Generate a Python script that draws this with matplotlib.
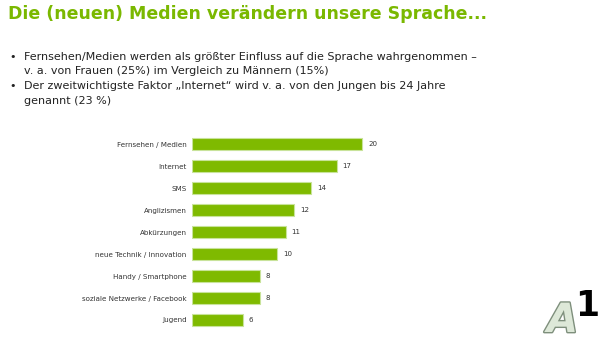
import matplotlib
matplotlib.use("Agg")
import matplotlib.pyplot as plt
import matplotlib.patheffects as pe

# Einflussfaktoren auf die Sprache (Angaben in %)
kategorien = ["Fernsehen / Medien", "Internet", "SMS", "Anglizismen", "Abkürzungen",
              "neue Technik / Innovation", "Handy / Smartphone",
              "soziale Netzwerke / Facebook", "Jugend"]
werte = [20, 17, 14, 12, 11, 10, 8, 8, 6]

titel = "Die (neuen) Medien verändern unsere Sprache..."
punkte = [
    ["Fernsehen/Medien werden als größter Einfluss auf die Sprache wahrgenommen –",
     "v. a. von Frauen (25%) im Vergleich zu Männern (15%)"],
    ["Der zweitwichtigste Faktor „Internet“ wird v. a. von den Jungen bis 24 Jahre",
     "genannt (23 %)"],
]

gruen = "#7fba00"
W, H = 600, 340

fig = plt.figure(figsize=(6, 3.4), dpi=100)
fig.patch.set_facecolor("white")

def px(x, y):
    return x / W, 1 - y / H

# Titel
fig.text(*px(8, 19), titel, color="#7ab800", fontsize=12.5, fontweight="bold",
         va="baseline", ha="left", family="DejaVu Sans")

# Aufzählung
y = 57
for zeilen in punkte:
    fig.text(*px(9, y), "•", fontsize=8, va="center", ha="left", color="#222222")
    for z in zeilen:
        fig.text(*px(24, y), z, fontsize=8, va="center", ha="left", color="#222222")
        y += 14.5

# Balkendiagramm
links, oben, schritt = 192, 133.3, 21.96
ax = fig.add_axes([links / W, (H - (oben + 9 * schritt)) / H, 25 * 8.5 / W, 9 * schritt / H])
pos = list(range(len(werte)))
ax.barh(pos, werte, height=0.56, color=gruen, edgecolor="#c8e39a", linewidth=0.8)
ax.set_xlim(0, 25)
ax.set_ylim(8.5, -0.5)
ax.set_yticks(pos)
ax.set_yticklabels(kategorien, fontsize=5.1, color="#333333")
ax.tick_params(axis="y", length=0, pad=4)
ax.set_xticks([])
for s in ax.spines.values():
    s.set_visible(False)
for p, v in zip(pos, werte):
    ax.text(v + 0.7, p, str(v), va="center", ha="left", fontsize=5.1, color="#333333")

# A1-Logo
fig.text(*px(578, 332), "A", fontsize=29, fontweight="bold", style="italic",
         color="#dde8d8", va="baseline", ha="right",
         path_effects=[pe.withStroke(linewidth=2, foreground="#7e8f7c")])
fig.text(*px(599, 316), "1", fontsize=25, fontweight="bold", color="black",
         va="baseline", ha="right")

fig.savefig("out.png", dpi=100)
